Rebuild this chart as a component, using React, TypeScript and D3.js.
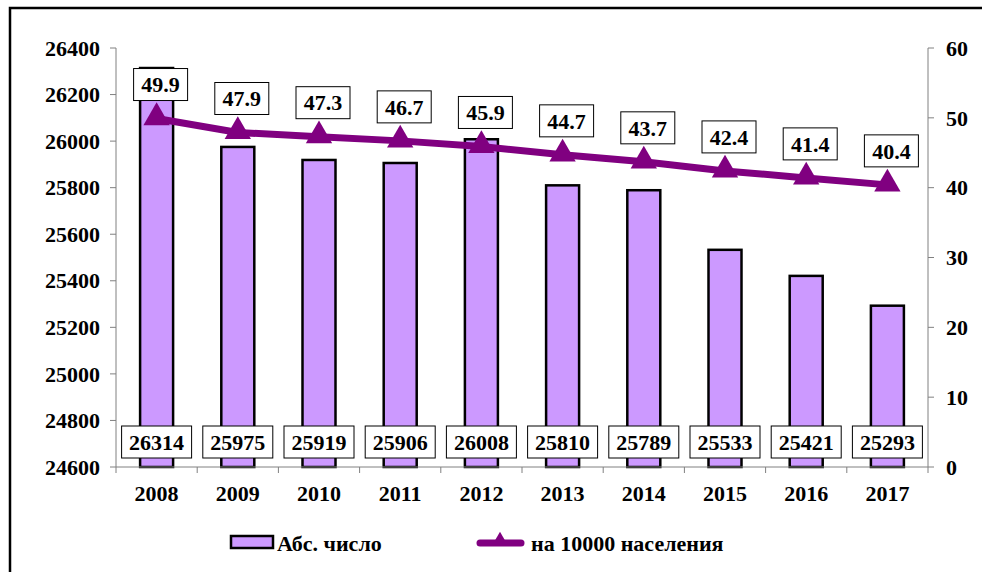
import React from "react";
import * as d3 from "d3";

const years = ["2008", "2009", "2010", "2011", "2012", "2013", "2014", "2015", "2016", "2017"];
const absValues = [26314, 25975, 25919, 25906, 26008, 25810, 25789, 25533, 25421, 25293];
const rateValues = [49.9, 47.9, 47.3, 46.7, 45.9, 44.7, 43.7, 42.4, 41.4, 40.4];
const leftTicks = [24600, 24800, 25000, 25200, 25400, 25600, 25800, 26000, 26200, 26400];
const rightTicks = [0, 10, 20, 30, 40, 50, 60];

const FONT = "Liberation Serif";
const BAR_FILL = "#CC99FF";
const LINE_COLOR = "#800080";

function T(props: any) {
  return <text fontFamily={FONT} fontWeight="bold" fontSize={22} dy="0.35em" {...props} />;
}

export default function App() {
  const left = 116, right = 928, top = 48, bottom = 467;
  const x = d3.scaleBand<string>().domain(years).range([left, right]);
  const yL = d3.scaleLinear().domain([24600, 26400]).range([bottom, top]);
  const yR = d3.scaleLinear().domain([0, 60]).range([bottom, top]);
  const barW = 33;
  const cx = (y: string) => (x(y) as number) + x.bandwidth() / 2;
  const line = d3.line<number>().x((_, i) => cx(years[i])).y((d) => yR(d));
  const tri = d3.symbol().type(d3.symbolTriangle).size(300)();

  return (
    <svg width={982} height={572} style={{ position: "absolute", left: 0, top: 0 }}>
      <rect x={0} y={0} width={982} height={572} fill="#fff" />
      <rect x={10} y={8} width={990} height={600} fill="none" stroke="#000" strokeWidth={2.5} />
      {/* bars */}
      {years.map((yr, i) => (
        <rect key={yr} x={cx(yr) - barW / 2} y={yL(absValues[i])} width={barW} height={bottom - yL(absValues[i])}
          fill={BAR_FILL} stroke="#000" strokeWidth={2.5} />
      ))}
      {/* left axis */}
      <line x1={left} x2={left} y1={top} y2={bottom} stroke="#808080" strokeWidth={1} />
      {leftTicks.map((t) => (
        <g key={t}>
          <line x1={left - 6} x2={left} y1={yL(t)} y2={yL(t)} stroke="#808080" />
          <T x={left - 16} y={yL(t)} textAnchor="end">{t}</T>
        </g>
      ))}
      {/* right axis */}
      <line x1={right} x2={right} y1={top} y2={bottom} stroke="#808080" strokeWidth={1} />
      {rightTicks.map((t) => (
        <g key={t}>
          <line x1={right} x2={right + 6} y1={yR(t)} y2={yR(t)} stroke="#808080" />
          <T x={right + 18} y={yR(t)} textAnchor="start">{t}</T>
        </g>
      ))}
      {/* bottom axis */}
      <line x1={left} x2={right} y1={bottom} y2={bottom} stroke="#808080" />
      {years.map((yr) => (
        <line key={"t" + yr} x1={x(yr) as number} x2={x(yr) as number} y1={bottom} y2={bottom + 6} stroke="#808080" />
      ))}
      <line x1={right} x2={right} y1={bottom} y2={bottom + 6} stroke="#808080" />
      {years.map((yr) => (
        <T key={"l" + yr} x={cx(yr)} y={bottom + 26} textAnchor="middle">{yr}</T>
      ))}
      {/* bar labels */}
      {years.map((yr, i) => (
        <g key={"bl" + yr}>
          <rect x={cx(yr) - 35} y={426} width={70} height={32} fill="#fff" stroke="#000" strokeWidth={1} />
          <T x={cx(yr)} y={442} textAnchor="middle">{absValues[i]}</T>
        </g>
      ))}
      {/* line */}
      <path d={line(rateValues) as string} fill="none" stroke={LINE_COLOR} strokeWidth={7} />
      {years.map((yr, i) => (
        <path key={"m" + yr} d={tri as string} transform={`translate(${cx(yr)},${yR(rateValues[i]) - 1})`} fill={LINE_COLOR} />
      ))}
      {/* line labels */}
      {years.map((yr, i) => (
        <g key={"ll" + yr}>
          <rect x={cx(yr) + 4 - 27} y={yR(rateValues[i]) - 50} width={54} height={32} fill="#fff" stroke="#000" strokeWidth={1} />
          <T x={cx(yr) + 4} y={yR(rateValues[i]) - 34} textAnchor="middle">{rateValues[i]}</T>
        </g>
      ))}
      {/* legend */}
      <rect x={231} y={536} width={42} height={12} fill={BAR_FILL} stroke="#000" strokeWidth={2.5} />
      <T x={277} y={543}>Абс. число</T>
      <line x1={480} x2={521} y1={543} y2={543} stroke={LINE_COLOR} strokeWidth={7} strokeLinecap="round" />
      <path d={d3.symbol().type(d3.symbolTriangle).size(110)() as string} transform="translate(500,541)" fill={LINE_COLOR} />
      <T x={531} y={543}>на 10000 населения</T>
    </svg>
  );
}
